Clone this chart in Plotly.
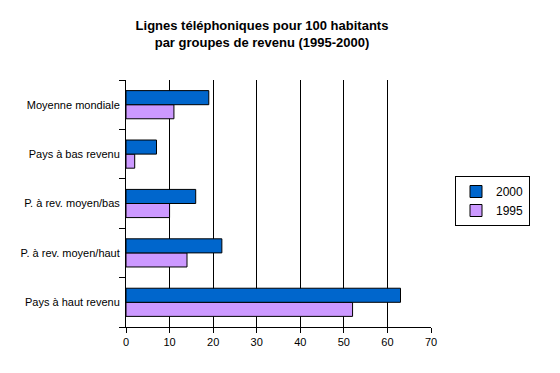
import plotly.graph_objects as go

categories = ["Pays à haut revenu", "P. à rev. moyen/haut", "P. à rev. moyen/bas",
              "Pays à bas revenu", "Moyenne mondiale"]
values_1995 = [52, 14, 10, 2, 11]
values_2000 = [63, 22, 16, 7, 19]
x_ticks = [0, 10, 20, 30, 40, 50, 60, 70]

W, H = 560, 373
L, R, T, B = 126, 129, 80, 46

fig = go.Figure()
fig.add_trace(go.Bar(y=categories, x=values_1995, name="1995", orientation="h",
                     marker=dict(color="#CC99FF", line=dict(color="black", width=1))))
fig.add_trace(go.Bar(y=categories, x=values_2000, name="2000", orientation="h",
                     marker=dict(color="#0066CC", line=dict(color="black", width=1))))

fig.update_layout(
    width=W, height=H,
    margin=dict(l=L, r=R, t=T, b=B, autoexpand=False),
    paper_bgcolor="white", plot_bgcolor="white",
    font=dict(family="Liberation Sans, Arial, sans-serif", size=11, color="black"),
    barmode="group", bargap=0.43, bargroupgap=0,
    title=dict(text="<b>Lignes téléphoniques pour 100 habitants<br>par groupes de revenu (1995-2000)</b>",
               x=262 / W, xanchor="center", y=1 - 30 / H, yanchor="top",
               font=dict(size=13, family="Liberation Sans, Arial, sans-serif")),
    xaxis=dict(range=[0, 70], tickvals=x_ticks, showgrid=True, gridcolor="black", gridwidth=1,
               showline=True, linecolor="black", linewidth=1, ticks="outside", ticklen=5,
               tickcolor="black", zeroline=False, fixedrange=True, automargin=False),
    yaxis=dict(type="category", categoryorder="array", categoryarray=categories,
               showline=True, linecolor="black", linewidth=1, ticks="outside", ticklen=6,
               tickson="boundaries", tickcolor="black", showgrid=False, zeroline=False,
               ticklabelstandoff=3, automargin=False, fixedrange=True),
    legend=dict(x=(455 - L) / (W - L - R), y=(H - B - 176) / (H - T - B), xanchor="left", yanchor="top",
                bordercolor="black", borderwidth=1, traceorder="reversed",
                font=dict(size=12), itemwidth=30, tracegroupgap=0),
    showlegend=True,
)
fig.write_html("out.html", config={"displayModeBar": False},
               post_script="document.body.style.margin='0';")
